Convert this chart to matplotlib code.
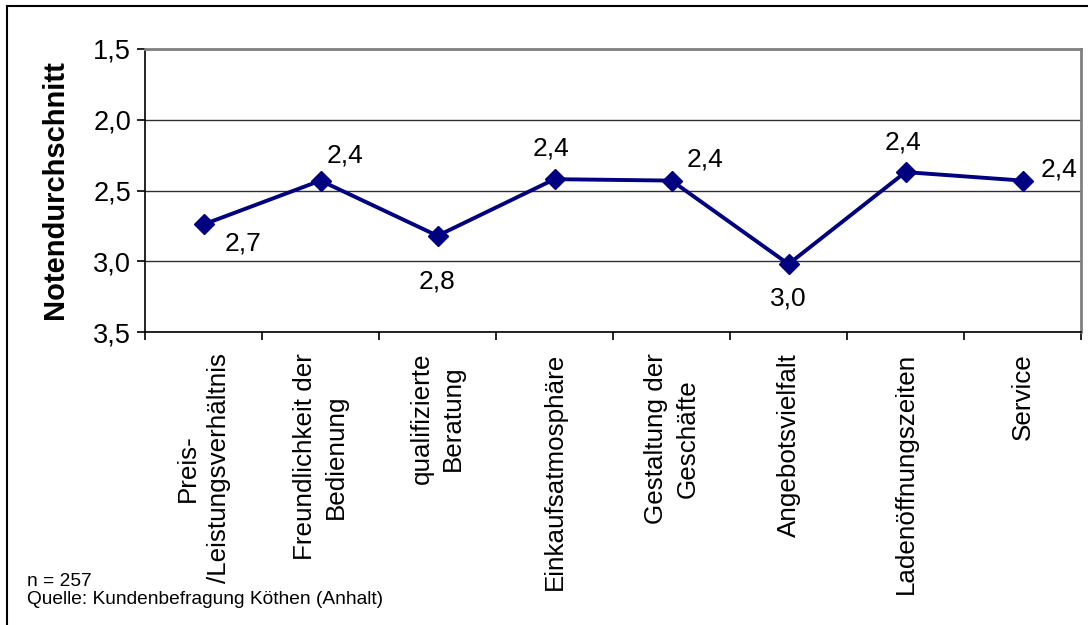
import matplotlib.pyplot as plt
from matplotlib.patches import Rectangle

plt.rcParams['font.family'] = ['Liberation Sans', 'DejaVu Sans']

categories = ['Preis-\n/Leistungsverhältnis', 'Freundlichkeit der\nBedienung',
              'qualifizierte\nBeratung', 'Einkaufsatmosphäre',
              'Gestaltung der\nGeschäfte', 'Angebotsvielfalt',
              'Ladenöffnungszeiten', 'Service']
grades = [2.74, 2.43, 2.82, 2.42, 2.43, 3.02, 2.37, 2.43]
y_ticks = [1.5, 2.0, 2.5, 3.0, 3.5]

# label offsets (pixels) from each marker
label_offsets = [(40, -19), (24, 25), (0, -46), (-4, 31),
                 (33, 21), (0, -34), (-3, 30), (36, 11)]

fig = plt.figure(figsize=(10.88, 6.25), dpi=100)
ax = fig.add_axes([145 / 1088, 1 - 332 / 625, (1081 - 145) / 1088, (332 - 49) / 625])

x = list(range(len(categories)))
ax.plot(x, grades, color='#000080', lw=2.8, marker='D', ms=10.5, zorder=3)

for xi, g, (dx, dy) in zip(x, grades, label_offsets):
    ax.annotate(f'{g:.1f}'.replace('.', ','), (xi, g), xytext=(dx, dy),
                textcoords='offset pixels', ha='center', va='center', fontsize=19)

ax.set_xlim(-0.5, len(categories) - 0.5)
ax.set_ylim(3.5, 1.5)
ax.set_yticks(y_ticks, [f'{v:.1f}'.replace('.', ',') for v in y_ticks])
ax.yaxis.grid(True, color='#303030', lw=1)
ax.set_axisbelow(True)

ax.set_xticks([i - 0.5 for i in range(len(categories) + 1)], [])
ax.set_xticks(x, categories, minor=True, rotation=90, ha='center', va='top',
              ma='center', fontsize=18.7, linespacing=1.4)
ax.tick_params(axis='x', which='minor', length=0, pad=15)
ax.tick_params(axis='both', which='major', length=6, width=1.2, color='black',
               labelsize=19.5, pad=4)

for s in ['top', 'right']:
    ax.spines[s].set_color('#808080')
    ax.spines[s].set_linewidth(2)
for s in ['left', 'bottom']:
    ax.spines[s].set_color('black')
    ax.spines[s].set_linewidth(1.2)

fig.text(55 / 1088, 1 - 190 / 625, 'Notendurchschnitt', rotation=90, ha='center',
         va='center', fontsize=21, fontweight='bold')
fig.text(27 / 1088, 1 - 581 / 625, 'n = 257', ha='left', va='center', fontsize=13.8)
fig.text(27 / 1088, 1 - 600 / 625, 'Quelle: Kundenbefragung Köthen (Anhalt)',
         ha='left', va='center', fontsize=13.8)

fig.add_artist(Rectangle((7 / 1088, -0.1), 1.2, 1 - 6 / 625 + 0.1,
                         transform=fig.transFigure, fill=False, ec='black', lw=1.5))

fig.savefig('out.png', dpi=100)
